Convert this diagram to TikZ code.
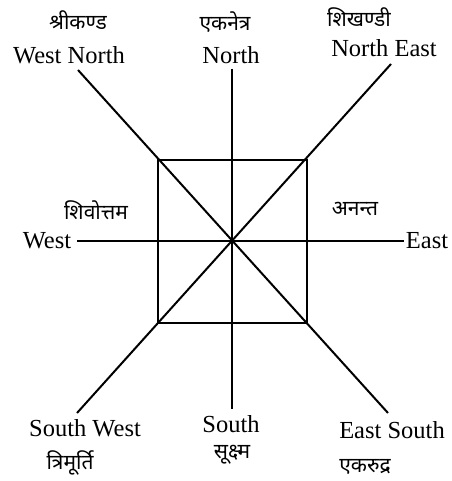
\documentclass[tikz,border=0pt]{standalone}
\usepackage{fontspec}
\setmainfont{Liberation Serif}
\newfontfamily\deva[Script=Devanagari]{Noto Sans}
\begin{document}
\begin{tikzpicture}[x=1pt,y=-1pt,
  ln/.style={line width=2pt,black},
  en/.style={font=\fontsize{24.5}{26}\selectfont,inner sep=0pt,anchor=center},
  dv/.style={font=\deva\fontsize{21}{23}\selectfont,inner sep=0pt,anchor=center}]
\useasboundingbox (0,0) rectangle (451,481);
\fill[white] (0,0) rectangle (451,481);
% centre and ends
\coordinate (c) at (232,241);
\coordinate (n) at (232,69);
\coordinate (s) at (232,409);
\coordinate (w) at (77,241);
\coordinate (e) at (404,241);
\coordinate (nw) at (78,70);
\coordinate (ne) at (391,64);
\coordinate (sw) at (77,413);
\coordinate (se) at (388,413);
% square
\node[draw,ln,minimum width=149pt,minimum height=163pt,inner sep=0pt] (sq) at (232.5,241.5) {};
\draw[ln] (n) -- (s);
\draw[ln] (w) -- (e);
\draw[ln] (nw) -- (se);
\draw[ln] (ne) -- (sw);
% labels
\node[en] (lwn) at (69,55) {West North};
\node[dv] (dwn) at (78,20) {श्रीकण्ड};
\node[en] (ln) at (231,55) {North};
\node[dv] (dn) at (225,22) {एकनेत्र};
\node[en] (lne) at (384,48) {North East};
\node[dv] (dne) at (359,17) {शिखण्डी};
\node[dv] (dw) at (96,210) {शिवोत्तम};
\node[en] (lw) at (47,241) {West};
\node[dv] (de) at (355,209) {अनन्त};
\node[en] (le) at (427,241) {East};
\node[en] (lsw) at (85,428) {South West};
\node[dv] (dsw) at (70,463) {त्रिमूर्ति};
\node[en] (ls) at (231,424) {South};
\node[dv] (ds) at (232,455) {सूक्ष्म};
\node[en] (lse) at (392,430) {East South};
\node[dv] (dse) at (365,467) {एकरुद्र};
\end{tikzpicture}
\end{document}
